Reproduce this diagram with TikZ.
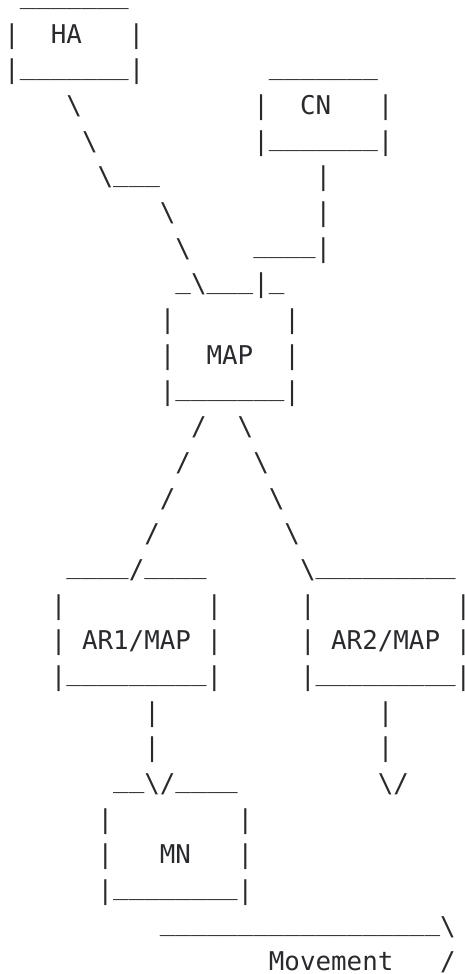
\documentclass[tikz,border=0pt]{standalone}
\usepackage{fontspec}
\newfontfamily\asciifont{DejaVu Sans Mono}
\definecolor{ink}{RGB}{40,42,46}
\newlength\uraise
\setlength\uraise{4.5pt}
\newcommand\U{\raisebox{\uraise}{\_}}
\newcommand\B{\textbackslash}
\tikzset{
  row/.style={anchor=base west, inner sep=0pt, outer sep=0pt, text=ink,
    font=\asciifont\fontsize{25.86pt}{35.67pt}\selectfont}
}
% column c, row r
\newcommand\at[2]{({4.2pt+15.57pt*#1},{-(7.63pt+35.67pt*#2)})}
\begin{document}
\begin{tikzpicture}
\useasboundingbox (0,0) rectangle (464pt,-974pt);
\node[row] (r0)  at \at{1}{0}  {\U\U\U\U\U\U\U};
\node[row] (r1)  at \at{0}{1}  {|~~HA~~~|};
\node[row] (r2)  at \at{0}{2}  {|\U\U\U\U\U\U\U|~~~~~~~~\U\U\U\U\U\U\U};
\node[row] (r3)  at \at{4}{3}  {\B~~~~~~~~~~~|~~CN~~~|};
\node[row] (r4)  at \at{5}{4}  {\B~~~~~~~~~~|\U\U\U\U\U\U\U|};
\node[row] (r5)  at \at{6}{5}  {\B\U\U\U~~~~~~~~~~|};
\node[row] (r6)  at \at{10}{6} {\B~~~~~~~~~|};
\node[row] (r7)  at \at{11}{7} {\B~~~~\U\U\U\U|};
\node[row] (r8)  at \at{11}{8} {\U\B\U\U\U|\U};
\node[row] (r9)  at \at{10}{9} {|~~~~~~~|};
\node[row] (r10) at \at{10}{10} {|~~MAP~~|};
\node[row] (r11) at \at{10}{11} {|\U\U\U\U\U\U\U|};
\node[row] (r12) at \at{12}{12} {/~~\B};
\node[row] (r13) at \at{11}{13} {/~~~~\B};
\node[row] (r14) at \at{10}{14} {/~~~~~~\B};
\node[row] (r15) at \at{9}{15}  {/~~~~~~~~\B};
\node[row] (r16) at \at{4}{16}  {\U\U\U\U/\U\U\U\U~~~~~~\B\U\U\U\U\U\U\U\U\U};
\node[row] (r17) at \at{3}{17}  {|~~~~~~~~~|~~~~~|~~~~~~~~~|};
\node[row] (r18) at \at{3}{18}  {|~AR1/MAP~|~~~~~|~AR2/MAP~|};
\node[row] (r19) at \at{3}{19}  {|\U\U\U\U\U\U\U\U\U|~~~~~|\U\U\U\U\U\U\U\U\U|};
\node[row] (r20) at \at{9}{20}  {|~~~~~~~~~~~~~~|};
\node[row] (r21) at \at{9}{21}  {|~~~~~~~~~~~~~~|};
\node[row] (r22) at \at{7}{22}  {\U\U\B/\U\U\U\U~~~~~~~~~\B/};
\node[row] (r23) at \at{6}{23}  {|~~~~~~~~|};
\node[row] (r24) at \at{6}{24}  {|~~~MN~~~|};
\node[row] (r25) at \at{6}{25}  {|\U\U\U\U\U\U\U\U|};
\node[row] (r26) at \at{10}{26} {\U\U\U\U\U\U\U\U\U\U\U\U\U\U\U\U\U\U\B};
\node[row] (r27) at \at{17}{27} {Movement~~~/};
\end{tikzpicture}
\end{document}
